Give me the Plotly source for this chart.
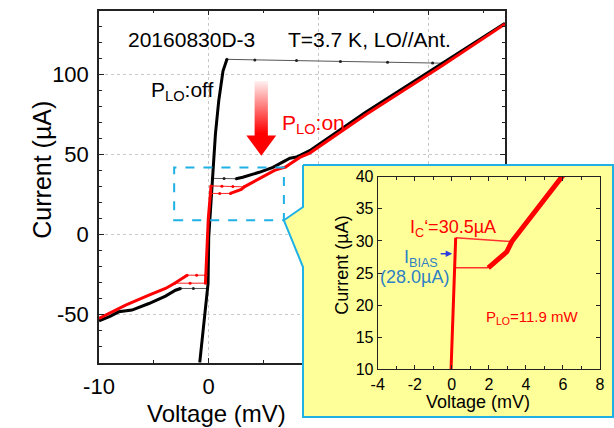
import plotly.graph_objects as go

W, H = 614, 428
FONT = "Arial, 'Liberation Sans', sans-serif"
BLUE = "#1FB1E6"
YELLOW = "#FFFF99"

# ---------------- I-V data, LO power off (black) ----------------
off_sc_v = [-0.82, -0.45, -0.11, -0.06, 0.0, 0.09, 0.24, 0.33, 0.39, 0.61, 0.91, 1.3, 1.66]
off_sc_i = [-80.0, -55.0, -33.6, -30.5, -1.5, 8.9, 25.5, 35.2, 42.1, 62.9, 83.6, 102.3, 109.6]
off_sw_v = [1.66, 4.2, 8.0, 12.0, 16.3, 20.4, 21.3]
off_sw_i = [109.6, 109.2, 108.8, 108.3, 107.8, 107.3, 107.2]
off_pos_v = [2.5, 3.1, 4.6, 5.85, 6.9, 7.4, 8.0, 9.2, 14.3, 21.3, 27.0]
off_pos_i = [35.0, 35.9, 39.0, 42.1, 46.0, 47.8, 48.5, 52.5, 76.5, 107.2, 132.2]
off_rt_v = [0.33, 1.4, 2.5]
off_rt_i = [35.2, 35.1, 35.0]
off_neg_v = [-10.0, -9.0, -8.2, -7.6, -7.0, -5.45, -3.94, -3.03, -2.57]
off_neg_i = [-53.8, -51.0, -48.2, -47.6, -47.1, -43.0, -38.4, -34.7, -33.6]
off_nrt_v = [-2.57, -1.4, -0.11]
off_nrt_i = [-33.6, -33.6, -33.6]

# ---------------- I-V data, LO power on (red) ----------------
on_sc_v = [-0.3, -0.27, -0.04, 0.153, 0.21]
on_sc_i = [-30.3, -25.3, 10.0, 25.8, 30.5]
on_ic_v = [0.21, 1.2, 2.2, 3.24]
on_ic_i = [30.5, 30.3, 30.1, 29.9]
on_rt_v = [0.153, 1.0, 1.97]
on_rt_i = [25.8, 25.8, 25.8]
on_pos_v = [1.97, 2.5, 2.97, 3.24, 4.5, 6.0, 6.5, 7.0, 7.4, 8.3, 9.2, 14.3, 21.3, 27.0]
on_pos_i = [25.8, 27.0, 28.3, 29.9, 34.7, 40.2, 41.3, 42.3, 44.2, 48.3, 51.0, 75.0, 105.8, 131.7]
on_neg_v = [-10.0, -8.7, -7.57, -5.45, -3.94, -3.1, -2.73, -1.97]
on_neg_i = [-52.3, -48.0, -44.0, -37.8, -33.6, -30.3, -28.5, -25.3]
on_nic_v = [-0.3, -1.7, -3.1]
on_nic_i = [-30.3, -30.3, -30.3]
on_nrt_v = [-1.97, -1.1, -0.27]
on_nrt_i = [-25.3, -25.3, -25.3]

# operating point and LO power
i_c_prime = 30.5
i_bias = 28.0
p_lo = 11.9

# tick labels
main_xticks = [-10, 0, 10, 20]
main_xtext = ["-10", "0", "10", "20"]
main_yticks = [-50, 0, 50, 100]
main_ytext = ["-50", "0", "50", "100"]
ins_xticks = [-4, -2, 0, 2, 4, 6, 8]
ins_xtext = ["-4", "-2", "0", "2", "4", "6", "8"]
ins_yticks = [10, 15, 20, 25, 30, 35, 40]
ins_ytext = ["10", "15", "20", "25", "30", "35", "40"]

# ---------------- geometry ----------------
XR, YR = [-10, 27], [-80, 140]
XD = [99 / W, 505 / W]
YD = [1 - 362.7 / H, 1 - 10.7 / H]
IXR, IYR = [-4, 8], [10, 40]
IXD = [377.7 / W, 600 / W]
IYD = [1 - 369.3 / H, 1 - 176.7 / H]
ZOOM_BOX = dict(x0=-3.15, x1=6.85, y0=9, y1=42)


def px(x):
    return x / W


def py(y):
    return 1 - y / H


def main_to_paper(x, y):
    fx = XD[0] + (x - XR[0]) / (XR[1] - XR[0]) * (XD[1] - XD[0])
    fy = YD[0] + (y - YR[0]) / (YR[1] - YR[0]) * (YD[1] - YD[0])
    return fx, fy


fig = go.Figure()

# main panel: black (LO off) then red (LO on)
thick_off = [(off_sc_v, off_sc_i), (off_pos_v, off_pos_i), (off_neg_v, off_neg_i)]
thin_off = [(off_sw_v, off_sw_i), (off_rt_v, off_rt_i), (off_nrt_v, off_nrt_i)]
thick_on = [(on_sc_v, on_sc_i), (on_pos_v, on_pos_i), (on_neg_v, on_neg_i)]
thin_on = [(on_ic_v, on_ic_i), (on_rt_v, on_rt_i), (on_nic_v, on_nic_i), (on_nrt_v, on_nrt_i)]

for v, i in thin_off:
    fig.add_trace(go.Scatter(x=v, y=i, mode="lines+markers", xaxis="x", yaxis="y",
                             line=dict(color="#555555", width=1),
                             marker=dict(color="#222222", size=3), showlegend=False))
for v, i in thick_off:
    fig.add_trace(go.Scatter(x=v, y=i, mode="lines", xaxis="x", yaxis="y",
                             line=dict(color="black", width=3), showlegend=False))
for v, i in thin_on:
    fig.add_trace(go.Scatter(x=v, y=i, mode="lines+markers", xaxis="x", yaxis="y",
                             line=dict(color="#ff2020", width=1),
                             marker=dict(color="red", size=3), showlegend=False))
for v, i in thick_on:
    fig.add_trace(go.Scatter(x=v, y=i, mode="lines", xaxis="x", yaxis="y",
                             line=dict(color="red", width=3), showlegend=False))

# gradient arrow showing the effect of LO power
arr_x = [4.18, 5.39, 5.39, 6.15, 4.79, 3.43, 4.18, 4.18]
arr_y = [96, 96, 62, 62, 49.4, 62, 62, 96]
fig.add_trace(go.Scatter(x=arr_x, y=arr_y, mode="lines", fill="toself", xaxis="x", yaxis="y",
                         line=dict(width=0, color="rgba(0,0,0,0)"),
                         fillgradient=dict(type="vertical",
                                           colorscale=[[0, "red"], [0.3, "red"],
                                                       [1, "rgba(255,240,240,1)"]]),
                         showlegend=False, hoverinfo="skip"))

# callout frame (own full-page subplot so it sits above the main panel)
tip = main_to_paper(ZOOM_BOX["x1"], ZOOM_BOX["y0"])
cl, cr, ct, cb = px(303), px(613), py(165), py(417)
call_x = [cl, cr, cr, cl, cl, tip[0], cl, cl]
call_y = [ct, ct, cb, cb, py(267), tip[1], py(207), ct]
fig.add_trace(go.Scatter(x=call_x, y=call_y, mode="lines", fill="toself", xaxis="x2", yaxis="y2",
                         fillcolor=YELLOW, line=dict(color=BLUE, width=2),
                         showlegend=False, hoverinfo="skip"))

# inset: LO-on curve, zoomed
for v, i in thin_on:
    fig.add_trace(go.Scatter(x=v, y=i, mode="lines", xaxis="x3", yaxis="y3",
                             line=dict(color="#ff3030", width=1.5), showlegend=False))
for k, (v, i) in enumerate(thick_on):
    fig.add_trace(go.Scatter(x=v, y=i, mode="lines", xaxis="x3", yaxis="y3",
                             line=dict(color="red", width=5 if k == 1 else 3),
                             showlegend=False))

axis_common = dict(showline=True, linecolor="#222222", ticks="inside", mirror="ticks",
                   zeroline=False, tickcolor="#222222", tickmode="array", automargin=False)

fig.update_layout(
    width=W, height=H, margin=dict(l=0, r=0, t=0, b=0, autoexpand=False),
    paper_bgcolor="white", plot_bgcolor="rgba(0,0,0,0)",
    font=dict(family=FONT, color="black"),
    xaxis=dict(domain=XD, range=XR, tickvals=main_xticks, ticktext=main_xtext,
               ticklen=5, linewidth=1.5, tickfont=dict(size=22), ticklabelstandoff=3,
               showgrid=True, gridcolor="#c8c8c8", griddash="dot", gridwidth=1,
               minor=dict(tickvals=[-5, 5, 15, 25], ticks="inside", ticklen=3,
                          tickcolor="#222222", showgrid=False),
               **axis_common),
    yaxis=dict(domain=YD, range=YR, tickvals=main_yticks, ticktext=main_ytext,
               ticklen=5, linewidth=1.5, tickfont=dict(size=22), ticklabelstandoff=4,
               showgrid=True, gridcolor="#c8c8c8", griddash="dot", gridwidth=1,
               minor=dict(tickvals=[-70, -60, -40, -30, -20, -10, 10, 20, 30, 40, 60, 70,
                                    80, 90, 110, 120, 130],
                          ticks="inside", ticklen=3, tickcolor="#222222", showgrid=False),
               **axis_common),
    xaxis2=dict(domain=[0, 1], range=[0, 1], visible=False, anchor="y2", automargin=False),
    yaxis2=dict(domain=[0, 1], range=[0, 1], visible=False, anchor="x2", automargin=False),
    xaxis3=dict(domain=IXD, range=IXR, anchor="y3", tickvals=ins_xticks, ticktext=ins_xtext,
                ticklen=4, linewidth=1, tickfont=dict(size=16), showgrid=False,
                minor=dict(tickvals=[-3, -1, 1, 3, 5, 7], ticks="inside", ticklen=3,
                           tickcolor="#222222"),
                **axis_common),
    yaxis3=dict(domain=IYD, range=IYR, anchor="x3", tickvals=ins_yticks, ticktext=ins_ytext,
                ticklen=4, linewidth=1, tickfont=dict(size=16), showgrid=False,
                **axis_common),
)

# dashed zoom window on the main panel
fig.add_shape(type="rect", xref="x", yref="y", **ZOOM_BOX,
              line=dict(color=BLUE, width=2, dash="dash"))

ann = [
    dict(text="20160830D-3", x=-1.57, y=122, xref="x", yref="y", xanchor="center",
         font=dict(size=21)),
    dict(text="T=3.7 K, LO//Ant.", x=7.06, y=122, xref="x", yref="y", xanchor="left",
         font=dict(size=21)),
    dict(text="P<sub>LO</sub>:off", x=-5.45, y=90, xref="x", yref="y", xanchor="left",
         font=dict(size=21)),
    dict(text="P<sub>LO</sub>:on", x=6.45, y=69, xref="x", yref="y", xanchor="left",
         font=dict(size=21, color="red")),
    dict(text="Voltage (mV)", x=px(216), y=py(413), xref="paper", yref="paper",
         xanchor="center", font=dict(size=24)),
    dict(text="Current (µA)", x=px(41.7), y=py(170), xref="paper", yref="paper",
         xanchor="center", textangle=-90, font=dict(size=25)),
    dict(text="Voltage (mV)", x=px(477.5), y=py(401.7), xref="paper", yref="paper",
         xanchor="center", font=dict(size=18)),
    dict(text="Current (µA)", x=px(341.7), y=py(265), xref="paper", yref="paper",
         xanchor="center", textangle=-90, font=dict(size=18)),
    dict(text=f"I<sub>C</sub>‘={i_c_prime}µA", x=-2.35, y=31.9, xref="x3", yref="y3",
         xanchor="left", font=dict(size=18, color="red")),
    dict(text="I<sub>BIAS</sub>", x=-2.7, y=27.3, xref="x3", yref="y3",
         xanchor="left", font=dict(size=18, color="#2E7FC4")),
    dict(text=f"({i_bias:.1f}µA)", x=-2.04, y=24.3, xref="x3", yref="y3",
         xanchor="center", font=dict(size=18, color="#2E7FC4")),
    dict(text=f"P<sub>LO</sub>={p_lo} mW", x=1.74, y=18.0, xref="x3", yref="y3",
         xanchor="left", font=dict(size=15, color="red")),
]
for a in ann:
    fig.add_annotation(showarrow=False, yanchor="middle", **a)

# bias-point pointer
fig.add_annotation(x=0.02, y=i_bias, ax=-0.68, ay=i_bias, xref="x3", yref="y3",
                   axref="x3", ayref="y3", text="", showarrow=True,
                   arrowhead=2, arrowsize=1, arrowwidth=1.3, arrowcolor="#2a3be0")

fig.write_html("out.html")
